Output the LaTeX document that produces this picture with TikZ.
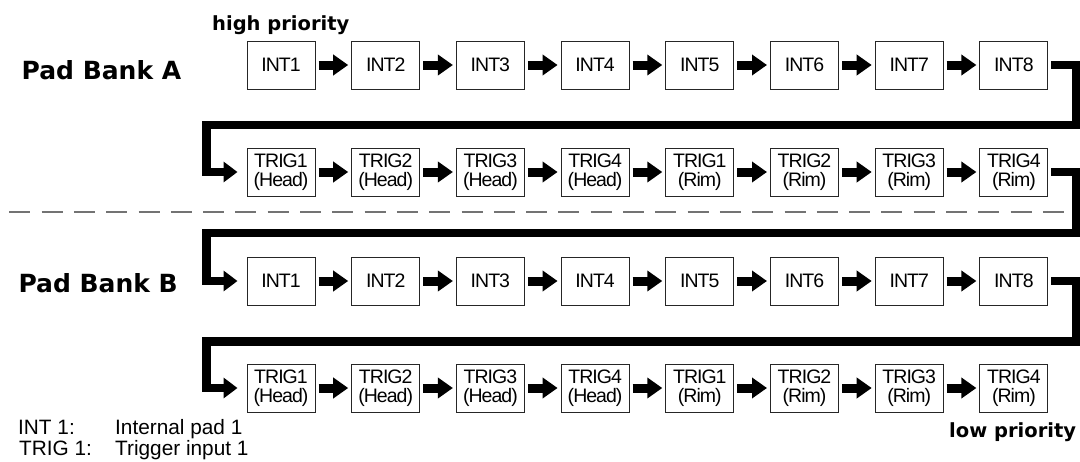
\documentclass[tikz,border=0pt]{standalone}
\usepackage{fontspec}
\setmainfont{Liberation Sans}
\newfontfamily\vfont{DejaVu Sans}
\newfontfamily\boxfont[LetterSpace=-5]{Liberation Sans}
\usetikzlibrary{arrows.meta}
\begin{document}
\begin{tikzpicture}[x=1pt,y=-1pt,
  pad/.style={draw=black!85, line width=1pt, minimum width=68pt, minimum height=48pt,
    inner sep=0pt, align=center, font=\boxfont\fontsize{19.5}{19}\selectfont},
  flow/.style={line width=9pt, -{Triangle[length=15pt,width=20pt]}},
  route/.style={line width=8.5pt, line join=miter, -{Triangle[length=14pt,width=20pt]}},
  bank/.style={anchor=base west, inner sep=0pt, font=\vfont\bfseries\fontsize{25}{30}\selectfont},
  prio/.style={anchor=base west, inner sep=0pt, font=\vfont\bfseries\fontsize{19.5}{24}\selectfont},
  legend/.style={anchor=base west, inner sep=0pt, font=\fontsize{20.8}{25}\selectfont}]
\useasboundingbox (0,0) rectangle (1080,461);

% rows of pads
\foreach \i/\t in {1/INT1,2/INT2,3/INT3,4/INT4,5/INT5,6/INT6,7/INT7,8/INT8}{
  \node[pad] (a\i) at ({281+104.7*(\i-1)},65) {\t};
  \node[pad] (c\i) at ({281+104.7*(\i-1)},281) {\t};
}
\foreach \i/\t in {1/{TRIG1\\(Head)},2/{TRIG2\\(Head)},3/{TRIG3\\(Head)},4/{TRIG4\\(Head)},
                   5/{TRIG1\\(Rim)},6/{TRIG2\\(Rim)},7/{TRIG3\\(Rim)},8/{TRIG4\\(Rim)}}{
  \node[pad] (b\i) at ({281+104.7*(\i-1)},172) {\t};
  \node[pad] (d\i) at ({281+104.7*(\i-1)},388) {\t};
}

% arrows within rows
\foreach \i [evaluate=\i as \j using int(\i+1)] in {1,...,7}{
  \draw[flow] ([xshift=3pt]a\i.east) -- ([xshift=-3pt]a\j.west);
  \draw[flow] ([xshift=3pt]b\i.east) -- ([xshift=-3pt]b\j.west);
  \draw[flow] ([xshift=3pt]c\i.east) -- ([xshift=-3pt]c\j.west);
  \draw[flow] ([xshift=3pt]d\i.east) -- ([xshift=-3pt]d\j.west);
}

% routes between rows
\coordinate (r1) at (1076,125); \coordinate (l1) at (206.5,125);
\coordinate (r2) at (1076,233); \coordinate (l2) at (206.5,233);
\coordinate (r3) at (1076,341.5); \coordinate (l3) at (206.5,341.5);
\draw[route] ([xshift=3pt]a8.east) -| (r1) -- (l1) |- ([xshift=-9pt]b1.west);
\draw[route] ([xshift=3pt]b8.east) -| (r2) -- (l2) |- ([xshift=-9pt]c1.west);
\draw[route] ([xshift=3pt]c8.east) -| (r3) -- (l3) |- ([xshift=-9pt]d1.west);

% separator
\draw[black!55, line width=2pt, dash pattern=on 21pt off 11.3pt] (9.3,212) -- (1072,212);

% labels
\node[bank] (bankA) at (21.5,79) {Pad Bank A};
\node[bank] (bankB) at (18.3,292) {Pad Bank B};
\node[prio] (hi) at (212,30) {high priority};
\node[prio] (lo) at (949,437) {low priority};
\node[legend] (k1) at (18,434) {INT 1:};
\node[legend] (v1) at (115,434) {Internal pad 1};
\node[legend] (k2) at (19,455) {TRIG 1:};
\node[legend] (v2) at (115,455) {Trigger input 1};
\end{tikzpicture}
\end{document}
